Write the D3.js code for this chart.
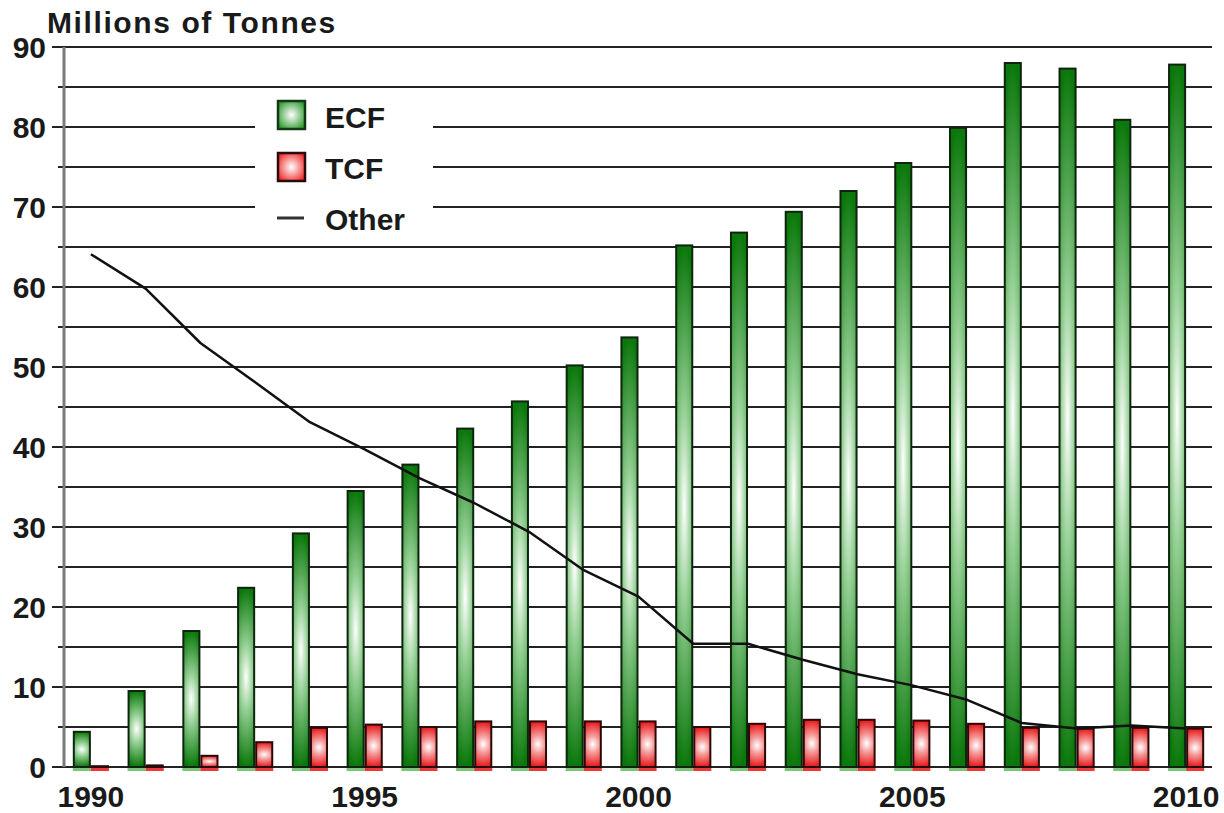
<!DOCTYPE html>
<html>
<head>
<meta charset="utf-8">
<script src="https://cdn.jsdelivr.net/npm/d3@7"></script>
<style>
  html, body { margin: 0; padding: 0; background: #fff; }
  text { font-family: "Liberation Sans", Arial, Helvetica, sans-serif; font-weight: bold; fill: #1a1a1a; }
</style>
</head>
<body>
<div id="chart"></div>
<script>
// values (millions of tonnes)
const years = d3.range(1990, 2011);
const ecf = [4.4, 9.5, 17.0, 22.4, 29.2, 34.5, 37.8, 42.3, 45.7, 50.2, 53.7,
             65.2, 66.8, 69.4, 72.0, 75.5, 79.9, 88.0, 87.3, 80.9, 87.8];
const tcf = [0.1, 0.2, 1.4, 3.1, 4.9, 5.3, 5.0, 5.7, 5.7, 5.7, 5.7,
             5.0, 5.4, 5.9, 5.9, 5.8, 5.4, 4.9, 4.8, 4.9, 4.8];
const other = [64.1, 59.8, 53.0, 48.1, 43.1, 39.7, 36.1, 33.0, 29.4, 24.6, 21.3,
               15.4, 15.4, 13.4, 11.6, 10.2, 8.4, 5.5, 4.8, 5.2, 4.8];
const yTicks = d3.range(0, 91, 10);
const yMinor = d3.range(5, 90, 10);
const xLabels = [1990, 1995, 2000, 2005, 2010];
const seriesNames = ["ECF", "TCF"];

const W = 1224, H = 813;
const svg = d3.select("#chart").append("svg").attr("width", W).attr("height", H);

const x = d3.scaleBand().domain(years).range([63.5, 1213.5]).paddingInner(0.34).paddingOuter(0.17);
const xs = d3.scaleBand().domain(seriesNames).range([0, x.bandwidth()]);
const y = d3.scaleLinear().domain([0, 90]).range([767, 47]);
const cx = d => x(d) + x.bandwidth() / 2;

// gradients
const defs = svg.append("defs");
function grad(id, edge, mid) {
  const g = defs.append("radialGradient").attr("id", id)
    .attr("cx", 0.5).attr("cy", 0.5).attr("r", 0.5)
    .attr("gradientTransform", "translate(0.5,0.5) scale(2.2,1) translate(-0.5,-0.5)");
  g.append("stop").attr("offset", "0%").attr("stop-color", "#ffffff");
  g.append("stop").attr("offset", "38%").attr("stop-color", mid);
  g.append("stop").attr("offset", "100%").attr("stop-color", edge);
}
grad("gECF", "#0b780b", "#93cf93");
grad("gTCF", "#e81818", "#f59a9a");
function sq(id, edge) {
  const g = defs.append("radialGradient").attr("id", id).attr("cx", 0.5).attr("cy", 0.5).attr("r", 0.6);
  g.append("stop").attr("offset", "0%").attr("stop-color", "#ffffff");
  g.append("stop").attr("offset", "100%").attr("stop-color", edge);
}
sq("sECF", "#2f9a2f");
sq("sTCF", "#f02a2a");

// grid lines
svg.append("g").selectAll("line").data(yTicks).join("line")
  .attr("x1", 52).attr("x2", 1212).attr("y1", d => y(d)).attr("y2", d => y(d))
  .attr("stroke", "#222").attr("stroke-width", 2);
svg.append("g").selectAll("line").data(yMinor).join("line")
  .attr("x1", 58).attr("x2", 1212).attr("y1", d => y(d)).attr("y2", d => y(d))
  .attr("stroke", "#222").attr("stroke-width", 2);

// y axis line
svg.append("line").attr("x1", 64).attr("x2", 64).attr("y1", y(90)).attr("y2", y(0))
  .attr("stroke", "#7a7a7a").attr("stroke-width", 3);

// tick labels
svg.append("g").selectAll("text").data(yTicks).join("text")
  .attr("x", 46).attr("y", d => y(d)).attr("dy", "0.36em")
  .attr("text-anchor", "end").style("font-size", "30px")
  .text(d => d);
svg.append("g").selectAll("text").data(xLabels).join("text")
  .attr("x", d => cx(d)).attr("y", 807)
  .attr("text-anchor", "middle").style("font-size", "30px")
  .text(d => d);

svg.append("text").attr("x", 47).attr("y", 33).style("font-size", "30px")
  .style("letter-spacing", "1.6px").text("Millions of Tonnes");

// legend box (covers grid lines)
svg.append("rect").attr("x", 255).attr("y", 92).attr("width", 178).attr("height", 146).attr("fill", "#fff");

// bars
const rows = years.map((yr, i) => ({ year: yr, ECF: ecf[i], TCF: tcf[i] }));
const groups = svg.append("g").selectAll("g").data(rows).join("g")
  .attr("transform", d => `translate(${x(d.year)},0)`);

groups.selectAll("rect.shadow").data(d => seriesNames.map(k => ({ k, v: d[k] }))).join("rect")
  .attr("class", "shadow")
  .attr("x", d => xs(d.k)).attr("y", y(0) + 1).attr("width", xs.bandwidth()).attr("height", 3)
  .attr("fill", d => d.k === "ECF" ? "#7cc47c" : "#e83a3a");

groups.selectAll("rect.bar").data(d => seriesNames.map(k => ({ k, v: d[k] }))).join("rect")
  .attr("class", "bar")
  .attr("x", d => xs(d.k) + 1).attr("y", d => y(d.v))
  .attr("width", xs.bandwidth() - 2).attr("height", d => y(0) - y(d.v))
  .attr("fill", d => d.k === "ECF" ? "url(#gECF)" : "url(#gTCF)")
  .attr("stroke", d => d.k === "ECF" ? "#0f240f" : "#2a0808")
  .attr("stroke-width", 2);

// other line
const line = d3.line().x((d, i) => cx(years[i])).y(d => y(d));
svg.append("path").datum(other).attr("d", line)
  .attr("fill", "none").attr("stroke", "#111").attr("stroke-width", 2.5)
  .attr("stroke-linejoin", "round");

// legend items
const leg = svg.append("g");
leg.append("rect").attr("x", 278).attr("y", 101).attr("width", 27).attr("height", 28)
  .attr("fill", "url(#sECF)").attr("stroke", "#123a12").attr("stroke-width", 2.5);
leg.append("rect").attr("x", 278).attr("y", 153).attr("width", 27).attr("height", 28)
  .attr("fill", "url(#sTCF)").attr("stroke", "#2a0a0a").attr("stroke-width", 2.5);
leg.append("line").attr("x1", 277).attr("x2", 304).attr("y1", 218).attr("y2", 218)
  .attr("stroke", "#333").attr("stroke-width", 3);
leg.selectAll("text").data(["ECF", "TCF", "Other"]).join("text")
  .attr("x", 325).attr("y", (d, i) => 128 + i * 51)
  .style("font-size", "30px").text(d => d);
</script>
</body>
</html>
